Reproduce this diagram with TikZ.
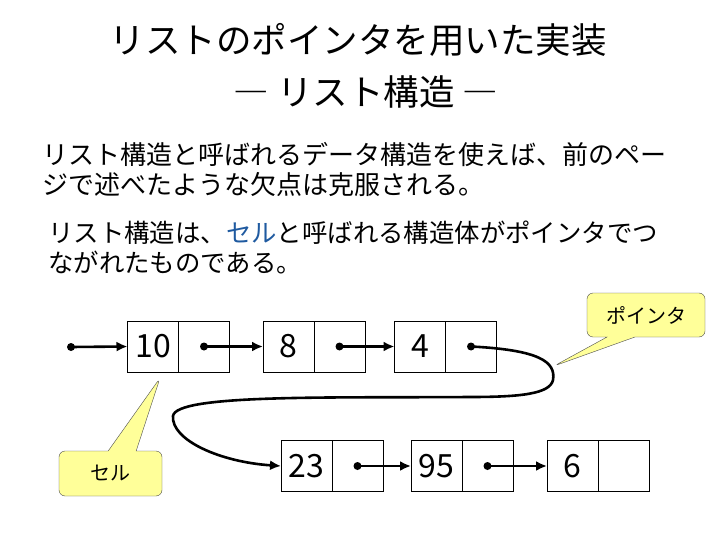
\documentclass[tikz,border=0pt]{standalone}
\usepackage{fontspec}
\setmainfont{Noto Sans CJK JP}
\usetikzlibrary{arrows.meta,positioning,shapes.callouts}
\definecolor{notefill}{HTML}{FFFF99}
\definecolor{cellblue}{HTML}{1F5AA0}

\begin{document}
\begin{tikzpicture}[x=1pt,y=-1pt,>={Latex[length=11pt,width=10pt]},
   val/.style={draw,line width=0.9pt,outer sep=0pt,minimum width=51pt,minimum height=51pt,inner sep=0pt,font=\fontsize{32}{32}\selectfont},
   ptr/.style={draw,line width=0.9pt,outer sep=0pt,minimum width=51pt,minimum height=51pt,inner sep=0pt,anchor=west},
   dot/.style={circle,fill,minimum size=8pt,inner sep=0pt},
   link/.style={->,line width=2.6pt},
   txt/.style={anchor=base west,inner sep=0pt,font=\fontsize{26}{30}\selectfont},
   note/.style={rectangle callout,draw=black!70,fill=notefill,rounded corners=6pt,callout pointer width=28pt,font=\fontsize{20}{20}\selectfont,inner sep=0pt}]
  \useasboundingbox (0,0) rectangle (720,540);
  % title
  \node[anchor=base,inner sep=0pt,font=\fontsize{35.5}{35.5}\selectfont] (title1) at (358,54) {リストのポインタを用いた実装};
  \node[anchor=base,inner sep=0pt,font=\fontsize{35.5}{35.5}\selectfont] (title2) at (366,106) {― リスト構造 ―};
  % text
  \node[txt] (line1) at (42,165) {リスト構造と呼ばれるデータ構造を使えば、前のペー};
  \node[txt] (line2) at (42,195) {ジで述べたような欠点は克服される。};
  \node[txt,font=\fontsize{25.4}{30}\selectfont] (line3) at (48,242) {リスト構造は、{\color{cellblue}セル}と呼ばれる構造体がポインタでつ};
  \node[txt,font=\fontsize{25.4}{30}\selectfont] (line4) at (48,272) {ながれたものである。};
  % cells
  \node[val] (c1v) at (153,346.5) {10};
  \node[ptr] (c1p) at (c1v.east) {};
  \node[val] (c2v) at (288.5,346.5) {8};
  \node[ptr] (c2p) at (c2v.east) {};
  \node[val] (c3v) at (420,346.5) {4};
  \node[ptr] (c3p) at (c3v.east) {};
  \node[val] (c4v) at (306.5,466) {23};
  \node[ptr] (c4p) at (c4v.east) {};
  \node[val] (c5v) at (436.5,466) {95};
  \node[ptr] (c5p) at (c5v.east) {};
  \node[val] (c6v) at (572.5,466) {6};
  \node[ptr] (c6p) at (c6v.east) {};
  % pointers
  \node[dot] (d0) at (71,347) {};
  \node[dot] (d1) at (c1p) {};
  \node[dot] (d2) at (c2p) {};
  \node[dot] (d3) at (c3p) {};
  \node[dot] (d4) at (c4p) {};
  \node[dot] (d5) at (c5p) {};
  \draw[link] (d0.center) -- (c1v.west);
  \draw[link] (d1.center) -- (c2v.west);
  \draw[link] (d2.center) -- (c3v.west);
  \draw[link] (d3.center) .. controls (540,350) and (556,362) .. (553,380)
     .. controls (550,394) and (520,397) .. (470,397)
     .. controls (330,398) and (176,394) .. (173,416)
     .. controls (171,440) and (220,462) .. (c4v.west);
  \draw[link] (d4.center) -- (c5v.west);
  \draw[link] (d5.center) -- (c6v.west);
  % callouts
  \node[note,minimum width=118pt,minimum height=44pt,callout absolute pointer={(554,366)}] (ptrnote) at (646,315) {ポインタ};
  \node[note,minimum width=103pt,minimum height=45pt,callout absolute pointer={(160,378)}] (cellnote) at (110.5,473.5) {セル};
\end{tikzpicture}
\end{document}
